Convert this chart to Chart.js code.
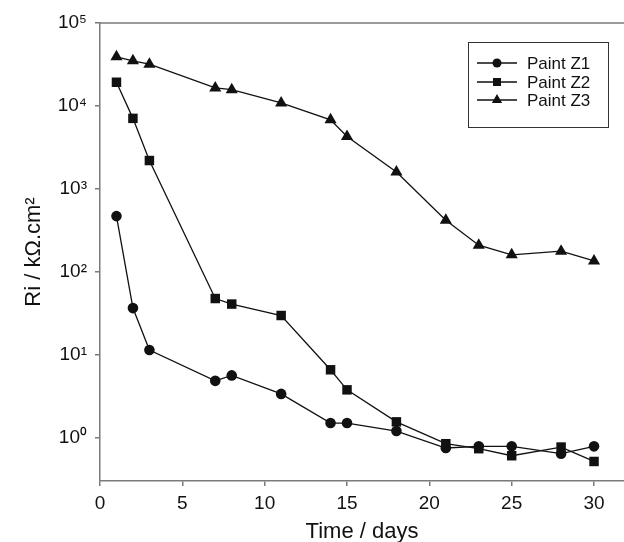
<!DOCTYPE html>
<html><head><meta charset="utf-8">
<script src="https://cdn.jsdelivr.net/npm/chart.js@4.4.0/dist/chart.umd.min.js"></script>
<style>html,body{margin:0;padding:0;background:#fff}#wrap{width:624px;height:542px}</style>
</head><body><div id="wrap"><canvas id="c" width="624" height="542"></canvas></div>
<script>
const days = [1, 2, 3, 7, 8, 11, 14, 15, 18, 21, 23, 25, 28, 30];
const paintZ1 = [469, 36.5, 11.4, 4.84, 5.63, 3.37, 1.5, 1.5, 1.2, 0.75, 0.785, 0.785, 0.64, 0.785];
const paintZ2 = [19300, 7080, 2195, 47.6, 40.8, 29.7, 6.58, 3.77, 1.55, 0.845, 0.736, 0.605, 0.77, 0.516];
const paintZ3 = [39100, 35000, 31900, 16500, 15700, 10850, 6800, 4290, 1600, 419, 209, 160, 177, 135];
const seriesNames = ['Paint Z1', 'Paint Z2', 'Paint Z3'];
const xTicks = [0, 5, 10, 15, 20, 25, 30];
const yTicks = [1, 10, 100, 1000, 10000, 100000];
const yTickLabels = ['10⁰', '10¹', '10²', '10³', '10⁴', '10⁵'];
const xTitle = 'Time / days';
const yTitle = 'Ri / kΩ.cm²';

const FONT = "'Liberation Sans', Arial, sans-serif";
const INK = '#111111';
const AXIS = '#7a7a7a';

function pts(vals) { return days.map((d, i) => ({x: d, y: vals[i]})); }

const styles = [
  {pointStyle: 'circle', pointRadius: 5.3},
  {pointStyle: 'rect', pointRadius: 6.7},
  {pointStyle: 'triangle', pointRadius: 7}
];
const seriesVals = [paintZ1, paintZ2, paintZ3];

const datasets = seriesVals.map((v, i) => ({
  label: seriesNames[i],
  data: pts(v),
  borderColor: INK,
  backgroundColor: INK,
  borderWidth: 1.3,
  pointStyle: styles[i].pointStyle,
  pointRadius: styles[i].pointRadius,
  pointBorderWidth: 0,
  pointBackgroundColor: INK,
  tension: 0,
  fill: false
}));

const frame = {
  id: 'frame',
  afterDraw(chart) {
    const {ctx, chartArea: a} = chart;
    ctx.save();
    ctx.strokeStyle = AXIS;
    ctx.lineWidth = 1.5;
    ctx.beginPath();
    ctx.moveTo(a.left, a.top);
    ctx.lineTo(chart.width, a.top);
    ctx.stroke();
    ctx.restore();
  }
};

const legendBox = {
  id: 'legendBox',
  afterDraw(chart) {
    const ctx = chart.ctx;
    ctx.save();
    ctx.strokeStyle = '#333';
    ctx.lineWidth = 1;
    ctx.strokeRect(468.5, 42.5, 140, 85);
    const rows = [63, 82, 100];
    chart.data.datasets.forEach((ds, i) => {
      const y = rows[i];
      ctx.strokeStyle = INK;
      ctx.lineWidth = 1.3;
      ctx.beginPath();
      ctx.moveTo(477, y);
      ctx.lineTo(517, y);
      ctx.stroke();
      ctx.fillStyle = INK;
      Chart.helpers.drawPoint(ctx, {pointStyle: ds.pointStyle, radius: ds.pointRadius * 0.85, rotation: 0, borderWidth: 0}, 497, y);
      ctx.fillStyle = INK;
      ctx.font = '17px ' + FONT;
      ctx.textBaseline = 'middle';
      ctx.textAlign = 'left';
      ctx.fillText(ds.label, 527, y + 1);
    });
    ctx.restore();
  }
};

new Chart(document.getElementById('c'), {
  type: 'line',
  data: {datasets},
  options: {
    responsive: false,
    animation: false,
    devicePixelRatio: 1,
    layout: {autoPadding: false, padding: {top: 23, right: 0, left: 0, bottom: 0}},
    plugins: {legend: {display: false}, tooltip: {enabled: false}},
    scales: {
      x: {
        type: 'linear',
        min: 0,
        max: 31.82,
        afterBuildTicks: s => { s.ticks = xTicks.map(v => ({value: v})); },
        afterFit: s => { s.height = 61; s.paddingLeft = 0; s.paddingRight = 0; },
        grid: {drawOnChartArea: false, drawTicks: true, tickLength: 5, color: AXIS, lineWidth: 1.5},
        border: {display: true, color: AXIS, width: 1.5},
        ticks: {color: INK, font: {family: FONT, size: 19}, padding: 6, maxRotation: 0, autoSkip: false},
        title: {display: true, text: xTitle, color: INK, font: {family: FONT, size: 22}, padding: {top: 0, bottom: -3}}
      },
      y: {
        type: 'logarithmic',
        min: 0.3,
        max: 100000,
        afterBuildTicks: s => { s.ticks = yTicks.map(v => ({value: v})); },
        afterFit: s => { s.width = 100; s.paddingTop = 0; s.paddingBottom = 0; },
        grid: {drawOnChartArea: false, drawTicks: true, tickLength: 5, color: AXIS, lineWidth: 1.5},
        border: {display: true, color: AXIS, width: 1.5},
        ticks: {
          color: INK, font: {family: FONT, size: 19}, padding: 8, autoSkip: false,
          callback: v => { const k = yTicks.indexOf(v); return k >= 0 ? yTickLabels[k] : ''; }
        },
        title: {display: true, text: yTitle, color: INK, font: {family: FONT, size: 22}, padding: {top: 21, bottom: 0}}
      }
    }
  },
  plugins: [frame, legendBox]
});
</script>
</body></html>
